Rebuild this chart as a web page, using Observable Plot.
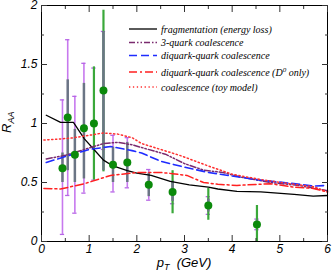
<!DOCTYPE html>
<html><head><meta charset="utf-8">
<script src="https://cdn.jsdelivr.net/npm/d3@7"></script>
<script src="https://cdn.jsdelivr.net/npm/@observablehq/plot@0.6"></script>
<style>body{margin:0;background:#fff} svg{display:block}</style>
</head><body><div id="chart"></div>
<script>
// ---- curves ----
const fragPt = [0.1, 0.4, 0.67, 0.9, 1.1, 1.3, 1.5, 1.8, 2.0, 2.3, 2.7, 3.1, 3.5, 3.7, 4.1, 4.6, 5.3, 5.7, 6.0];
const fragR  = [1.07, 1.01, 1.01, 0.87, 0.78, 0.69, 0.64, 0.60, 0.58, 0.56, 0.51, 0.48, 0.46, 0.445, 0.425, 0.42, 0.40, 0.385, 0.39];
const q3Pt = [0.1, 0.5, 0.9, 1.3, 1.6, 1.9, 2.2, 2.6, 3.0, 3.4, 3.8, 4.2, 4.8, 5.4, 6.0];
const q3R  = [0.70, 0.73, 0.78, 0.83, 0.84, 0.82, 0.785, 0.74, 0.66, 0.605, 0.585, 0.545, 0.50, 0.475, 0.43];
const dqPt = [0.1, 0.5, 1.0, 1.45, 1.9, 2.1, 2.5, 3.0, 3.5, 4.0, 4.6, 5.2, 5.7, 6.0];
const dqR  = [0.67, 0.72, 0.78, 0.805, 0.77, 0.75, 0.68, 0.63, 0.585, 0.555, 0.52, 0.495, 0.47, 0.475];
const d0Pt = [0.05, 0.4, 0.9, 1.45, 2.0, 2.5, 2.75, 3.05, 3.4, 3.7, 4.1, 4.8, 5.3, 5.7, 6.0];
const d0R  = [0.45, 0.445, 0.49, 0.56, 0.585, 0.585, 0.575, 0.56, 0.50, 0.485, 0.475, 0.49, 0.46, 0.45, 0.42];
const toyPt = [0.05, 0.6, 1.0, 1.3, 1.6, 1.9, 2.1, 2.5, 2.9, 3.3, 3.5, 4.0, 4.6, 5.2, 5.7, 6.0];
const toyR  = [0.86, 0.875, 0.90, 0.92, 0.91, 0.88, 0.83, 0.78, 0.73, 0.67, 0.64, 0.57, 0.525, 0.49, 0.465, 0.42];

// ---- data points ----
const ptData   = [0.44, 0.55, 0.70, 0.89, 1.10, 1.30, 1.50, 1.80, 2.25, 2.75, 3.50, 4.52];
const raaData  = [0.62, 1.05, 0.735, 0.96, 1.00, 1.28, 0.65, 0.67, 0.48, 0.42, 0.305, 0.145];
const statLo   = [0.06, 0.39, 0.24, 0.41, 0.52, 0.78, 0.42, 0.455, 0.35, 0.32, 0.23, 0.10];
const statHi   = [1.20, 1.71, 1.23, 1.51, 1.47, 1.78, 0.90, 0.88, 0.61, 0.51, 0.38, 0.19];
const sysLo    = [0.50, 0.60, 0.50, 0.53, null, 0.60, 0.50, 0.50, 0.38, 0.34, 0.25, 0.11];
const sysHi    = [0.75, 1.37, 0.95, 1.34, null, 1.78, 0.80, 0.84, 0.58, 0.50, 0.36, 0.18];
const grnLo    = [null, null, null, null, 0.52, 0.59, null, null, null, 0.235, 0.18, 0.0];
const grnHi    = [null, null, null, null, 1.48, 1.96, null, null, null, 0.60, 0.45, 0.305];

// ---- tick labels ----
const xTicks = [0, 1, 2, 3, 4, 5, 6];
const xMinor = [0.5, 1.5, 2.5, 3.5, 4.5, 5.5];
const yTicks = [0, 0.5, 1, 1.5, 2];
const yMinor = [0.25, 0.75, 1.25, 1.75];
const legendLabels = ["fragmentation (energy loss)", "3-quark coalescence", "diquark-quark coalescence", "diquark-quark coalescence (D", "coalescence (toy model)"];

const mk = (xs, ys) => xs.map((x, i) => ({x, y: ys[i]}));
const curves = [
  {data: mk(fragPt, fragR), stroke: "#000000", dash: null, width: 1.3},
  {data: mk(q3Pt, q3R), stroke: "#7a2a6e", dash: "6,2,1.5,2,1.5,2", width: 1.5},
  {data: mk(dqPt, dqR), stroke: "#1f2cff", dash: "8,4", width: 1.6},
  {data: mk(d0Pt, d0R), stroke: "#ff2020", dash: "8,3,2,3", width: 1.5},
  {data: mk(toyPt, toyR), stroke: "#ff3030", dash: "1.3,2.6", width: 1.5}
];
const pts = ptData.map((x, i) => ({x, y: raaData[i], sLo: statLo[i], sHi: statHi[i], yLo: sysLo[i], yHi: sysHi[i], gLo: grnLo[i], gHi: grnHi[i]}));
const sysPts = pts.filter(d => d.yLo != null);
const grnPts = pts.filter(d => d.gLo != null);
const capW = 0.045;

const blank = () => "";
const tk = (anchor, ticks, size) => (anchor === "bottom" || anchor === "top")
  ? Plot.axisX({anchor, ticks, tickSize: size, tickFormat: blank, stroke: "#333", label: null})
  : Plot.axisY({anchor, ticks, tickSize: size, tickFormat: blank, stroke: "#333", label: null});
const plot = Plot.plot({
  width: 332, height: 274,
  marginTop: 5, marginRight: 5, marginBottom: 33, marginLeft: 41,
  x: {domain: [0, 6]},
  y: {domain: [0, 2]},
  style: {fontFamily: "Liberation Sans, Arial, sans-serif", fontSize: "12px", fontStyle: "italic", background: "#fff", color: "#000"},
  marks: [
    // error bars
    Plot.ruleX(pts, {x: "x", y1: "sLo", y2: "sHi", stroke: "#c779ee", strokeWidth: 1.6}),
    Plot.ruleY(pts, {y: "sLo", x1: d => d.x - capW, x2: d => d.x + capW, stroke: "#b765e6", strokeWidth: 1.3}),
    Plot.ruleY(pts, {y: "sHi", x1: d => d.x - capW, x2: d => d.x + capW, stroke: "#b765e6", strokeWidth: 1.3}),
    Plot.ruleX(grnPts, {x: "x", y1: "gLo", y2: "gHi", stroke: "#3aa83a", strokeWidth: 2.2}),
    Plot.ruleX(sysPts, {x: "x", y1: "yLo", y2: "yHi", stroke: "#6b7585", strokeWidth: 2.5}),
    // curves
    ...curves.map(c => Plot.line(c.data, {x: "x", y: "y", stroke: c.stroke, strokeWidth: c.width, strokeDasharray: c.dash, curve: "linear"})),
    // points
    Plot.dot(pts, {x: "x", y: "y", r: 4, fill: "#0b8a0b", stroke: "none"}),
    // frame & ticks
    Plot.frame({stroke: "#000", strokeWidth: 1}),
    tk("bottom", xTicks, -6), tk("bottom", xMinor, -3),
    tk("top", xTicks, -6), tk("top", xMinor, -3),
    tk("left", yTicks, -6), tk("left", yMinor, -3),
    tk("right", yTicks, -6), tk("right", yMinor, -3),
    Plot.axisX({anchor: "bottom", ticks: xTicks, tickSize: 0, tickPadding: 3, tickFormat: d => String(d), label: null}),
    Plot.axisY({anchor: "left", ticks: yTicks, tickSize: 0, tickPadding: 4, tickFormat: d => String(d), label: null})
  ]
});
document.getElementById("chart").appendChild(plot);

// ---- legend and axis titles ----
const svg = d3.select(plot);
const legRows = [29, 42.5, 55.5, 72, 87];
const leg = svg.append("g").attr("text-anchor", "start");
curves.forEach((c, i) => {
  leg.append("line").attr("x1", 129).attr("x2", 157).attr("y1", legRows[i]).attr("y2", legRows[i])
    .attr("stroke", c.stroke).attr("stroke-width", c.width).attr("stroke-dasharray", c.dash);
  const t = leg.append("text").attr("x", 161).attr("y", legRows[i] + 3.5).attr("text-anchor", "start")
    .attr("font-family", "Liberation Serif, Times New Roman, serif").attr("font-size", 10).attr("font-style", "italic").attr("fill", "#000")
    .text(legendLabels[i]);
  if (i === 3) {
    t.append("tspan").attr("font-size", 7).attr("dy", -4).text("0");
    t.append("tspan").attr("dy", 4).text(" only)");
  }
});
const yl = svg.append("text").attr("transform", "translate(11,133) rotate(-90)").attr("text-anchor", "start")
  .attr("font-size", 13).attr("font-style", "italic").attr("fill", "#000");
yl.append("tspan").text("R");
yl.append("tspan").attr("font-size", 9).attr("dy", 3).text("AA");
const xl = svg.append("text").attr("x", 184).attr("y", 267).attr("text-anchor", "middle")
  .attr("font-size", 13).attr("font-style", "italic").attr("fill", "#000");
xl.append("tspan").text("p");
xl.append("tspan").attr("font-size", 9).attr("dy", 3).text("T");
xl.append("tspan").attr("dy", -3).text("  (GeV)");
</script></body></html>
